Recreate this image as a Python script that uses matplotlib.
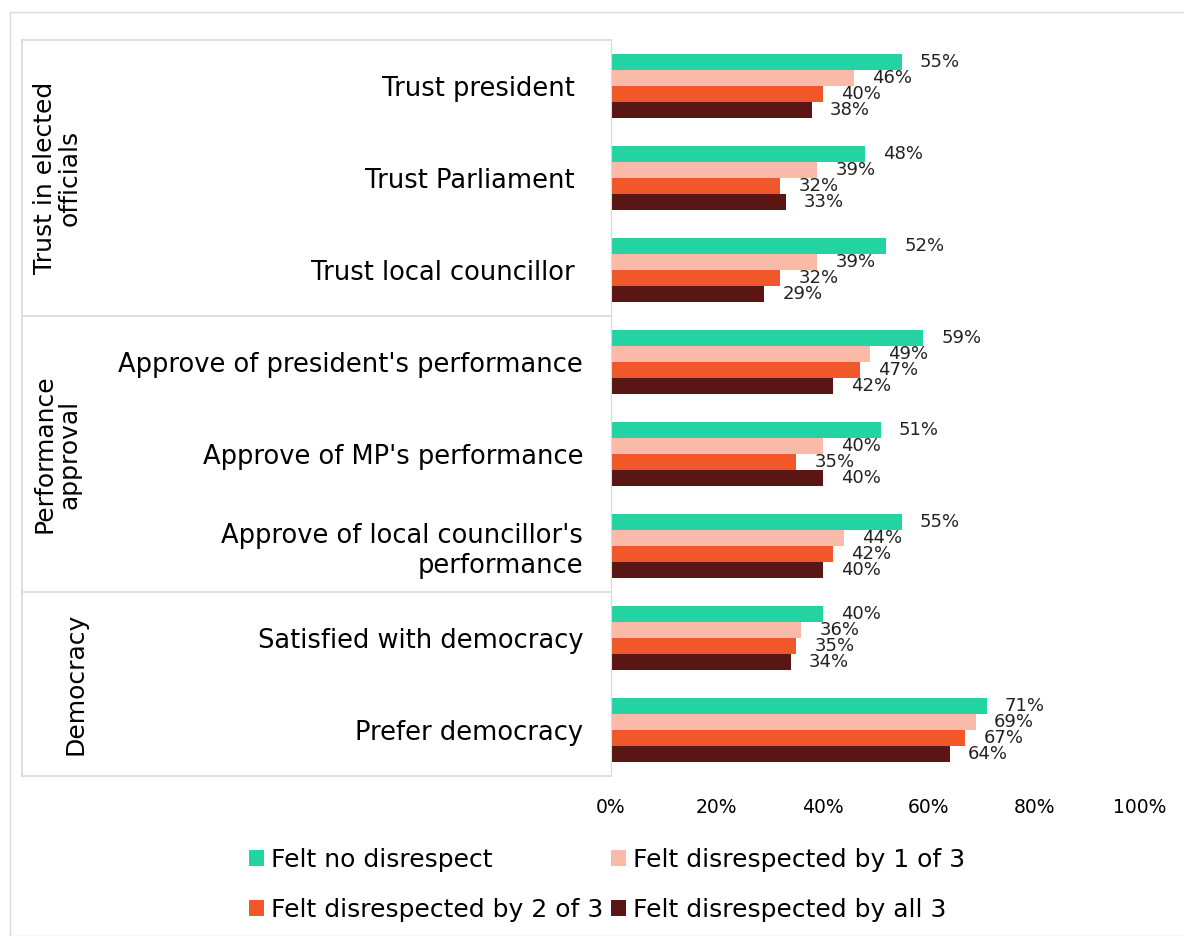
import matplotlib.pyplot as plt
from matplotlib.patches import Rectangle
import numpy as np

plt.rcParams['font.family'] = ['DejaVu Sans']

categories = ['Trust president ', 'Trust Parliament ', 'Trust local councillor ',
              "Approve of president's performance", "Approve of MP's performance",
              "Approve of local councillor's\nperformance",
              'Satisfied with democracy', 'Prefer democracy']
groups = ['Trust in elected\nofficials', 'Performance\napproval', 'Democracy']
group_sizes = [3, 3, 2]

series = ['Felt no disrespect', 'Felt disrespected by 1 of 3',
          'Felt disrespected by 2 of 3', 'Felt disrespected by all 3']
no_disrespect = [55, 48, 52, 59, 51, 55, 40, 71]
by_one = [46, 39, 39, 49, 40, 44, 36, 69]
by_two = [40, 32, 32, 47, 35, 42, 35, 67]
by_all = [38, 33, 29, 42, 40, 40, 34, 64]
colors = ['#24D3A2', '#F9BAA7', '#F2572A', '#5A1515']

W, H = 1184, 936
fig = plt.figure(figsize=(W / 100, H / 100), dpi=100)
x0, x1, y0, y1 = 611, 1140, 40, 776
ax = fig.add_axes([x0 / W, 1 - y1 / H, (x1 - x0) / W, (y1 - y0) / H])

# outer chart border
fig.add_artist(Rectangle((10 / W, 0), 1.2, 1 - 12 / H, transform=fig.transFigure,
                         fill=False, edgecolor='#d9d9d9', lw=1))

y = np.arange(len(categories))
h = 0.174
data = [no_disrespect, by_one, by_two, by_all]
bars = []
for i, (vals, col, name) in enumerate(zip(data, colors, series)):
    pos = y - 1.5 * h + i * h
    bars.append(ax.barh(pos, vals, height=h, color=col, label=name))
    for p, v in zip(pos, vals):
        ax.annotate(f'{v}%', (v, p), xytext=(13, 0), textcoords='offset points',
                    ha='left', va='center', fontsize=13, color='#222222')

ax.set_ylim(len(categories) - 0.5, -0.5)
ax.set_xlim(0, 100)
ax.set_xticks(np.arange(0, 101, 20))
ax.set_xticklabels([f'{t}%' for t in range(0, 101, 20)], fontsize=13.5)
ax.set_yticks(y)
ax.set_yticklabels(categories, fontsize=18.5, ha='right')
ax.tick_params(axis='y', length=0, pad=20)
ax.tick_params(axis='x', length=0, pad=16)
for s in ['top', 'right', 'bottom']:
    ax.spines[s].set_visible(False)
ax.spines['left'].set_color('#d9d9d9')

# group boxes on the left
tr = ax.get_yaxis_transform()
xl = (22 - x0) / (x1 - x0)
bounds = np.concatenate([[0], np.cumsum(group_sizes)]) - 0.5
for b in bounds:
    ax.plot([xl, 0], [b, b], transform=tr, color='#d9d9d9', lw=1.2, clip_on=False)
ax.plot([xl, xl], [bounds[0], bounds[-1]], transform=tr, color='#d9d9d9', lw=1.2, clip_on=False)
gx = [(57 - x0) / (x1 - x0), (57 - x0) / (x1 - x0), (75 - x0) / (x1 - x0)]
for g, lo, hi, xx in zip(groups, bounds[:-1], bounds[1:], gx):
    ax.text(xx, (lo + hi) / 2, g, transform=tr, rotation=90, ha='center', va='center',
            fontsize=18, multialignment='center', linespacing=1.05)

# legend filled row by row like the original
order = [0, 2, 1, 3]
fig.legend([bars[i] for i in order], [series[i] for i in order],
           loc='center', bbox_to_anchor=(607 / W, 1 - 885 / H), ncol=2, frameon=False,
           fontsize=18, handlelength=0.6, handleheight=0.6, handletextpad=0.3,
           columnspacing=0.3, labelspacing=1.05)

fig.savefig('out.png', dpi=100, facecolor='white')
